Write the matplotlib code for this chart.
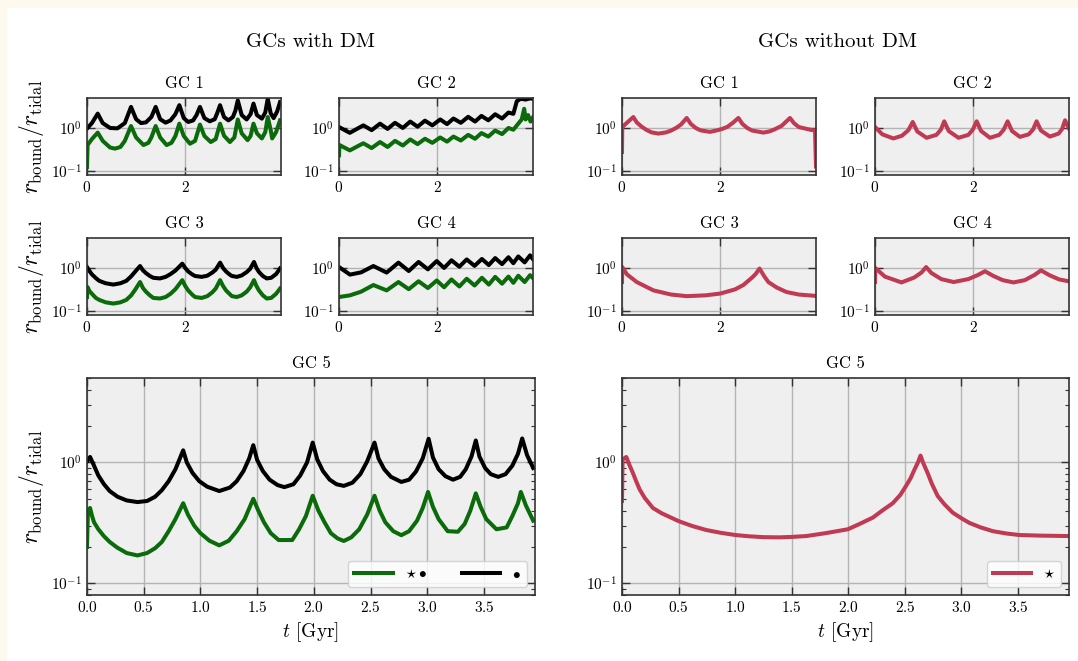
import numpy as np
import matplotlib
matplotlib.use("Agg")
import matplotlib.pyplot as plt
from matplotlib.ticker import MultipleLocator, NullLocator, NullFormatter, LogLocator
from matplotlib.patches import Rectangle

plt.rcParams['font.family'] = 'serif'
plt.rcParams['font.serif'] = ['cmr10']
plt.rcParams['mathtext.fontset'] = 'cm'
plt.rcParams['axes.formatter.use_mathtext'] = True
plt.rcParams['axes.unicode_minus'] = True

GREEN = '#0b6b0b'
BLACK = 'black'
RED = '#bf3a52'

# ---------------- data: time [Gyr], r_bound / r_tidal
# GCs with DM, small panels
gc1_dm_t_bk = [0.0, 0.1, 0.218, 0.32, 0.47, 0.62, 0.77, 0.896, 1.0, 1.1, 1.2, 1.31, 1.398, 1.49, 1.6, 1.7, 1.8,
               1.88, 1.97, 2.06, 2.16, 2.23, 2.30, 2.39, 2.5, 2.6, 2.65, 2.709, 2.79, 2.88, 2.97, 3.02, 3.07,
               3.15, 3.25, 3.33, 3.39, 3.46, 3.56, 3.63, 3.68, 3.74, 3.8, 3.87, 3.93]
gc1_dm_bk = [0.97, 1.3, 2.16, 1.3, 1.0, 0.98, 1.3, 3.1, 1.6, 1.3, 1.35, 1.8, 3.1, 1.6, 1.33, 1.5, 2.1,
             3.4, 1.7, 1.38, 1.5, 2.0, 3.1, 1.7, 1.43, 1.6, 2.2, 3.4, 1.8, 1.5, 1.8, 2.5, 4.4,
             2.0, 1.58, 2.1, 3.7, 2.0, 1.65, 2.3, 4.8, 2.2, 1.7, 2.4, 4.0]
gc1_dm_t_gr = [0.0, 0.012, 0.1, 0.218, 0.32, 0.47, 0.57, 0.68, 0.77, 0.896, 1.0, 1.15, 1.25, 1.31, 1.398, 1.49,
               1.62, 1.72, 1.8, 1.88, 1.97, 2.097, 2.2, 2.30, 2.39, 2.52, 2.62, 2.709, 2.79, 2.91, 3.0, 3.07,
               3.15, 3.27, 3.33, 3.39, 3.46, 3.56, 3.63, 3.68, 3.74, 3.77, 3.85, 3.93]
gc1_dm_gr = [0.124, 0.40, 0.55, 0.78, 0.5, 0.35, 0.33, 0.36, 0.5, 1.11, 0.6, 0.40, 0.45, 0.6, 1.11, 0.6,
             0.40, 0.45, 0.65, 1.26, 0.65, 0.43, 0.5, 1.2, 0.65, 0.47, 0.55, 1.26, 0.66, 0.47, 0.6, 1.58,
             0.75, 0.52, 0.65, 1.26, 0.75, 0.57, 0.8, 1.8, 0.9, 0.57, 0.8, 1.5]

gc2_dm_t_bk = [0.0, 0.22, 0.495, 0.665, 0.835, 0.99, 1.14, 1.3, 1.45, 1.6, 1.75, 1.9, 2.06, 2.2, 2.33, 2.48,
               2.63, 2.77, 2.9, 3.04, 3.18, 3.32, 3.45, 3.55, 3.62, 3.7, 3.8, 3.89, 3.95]
gc2_dm_bk = [1.05, 0.77, 1.15, 0.89, 1.26, 0.95, 1.32, 1.0, 1.41, 1.07, 1.48, 1.15, 1.58, 1.23, 1.66, 1.32,
             1.82, 1.41, 1.91, 1.51, 2.09, 1.66, 2.29, 2.14, 4.2, 4.8, 4.6, 4.9, 4.8]
gc2_dm_t_gr = [0.0, 0.01, 0.22, 0.495, 0.665, 0.835, 0.99, 1.14, 1.3, 1.45, 1.6, 1.75, 1.9, 2.06, 2.2, 2.33,
               2.48, 2.63, 2.77, 2.9, 3.04, 3.18, 3.32, 3.45, 3.55, 3.65, 3.72, 3.77, 3.8, 3.85, 3.9, 3.95]
gc2_dm_gr = [0.23, 0.40, 0.30, 0.44, 0.34, 0.47, 0.36, 0.50, 0.39, 0.54, 0.42, 0.56, 0.45, 0.60, 0.48, 0.63,
             0.51, 0.69, 0.56, 0.76, 0.63, 0.87, 0.72, 1.0, 0.91, 1.26, 1.58, 2.8, 1.58, 2.0, 1.41, 1.78]

gc3_dm_t_bk = [0.0, 0.05, 0.1, 0.18, 0.25, 0.38, 0.536, 0.68, 0.8, 0.9, 0.98, 1.08, 1.14, 1.2, 1.28, 1.35,
               1.486, 1.6, 1.7, 1.8, 1.94, 2.0, 2.06, 2.14, 2.2, 2.335, 2.45, 2.55, 2.62, 2.71, 2.77, 2.83,
               2.9, 2.95, 3.05, 3.15, 3.25, 3.32, 3.40, 3.45, 3.5, 3.58, 3.66, 3.75, 3.85, 3.93]
gc3_dm_bk = [1.05, 0.85, 0.71, 0.58, 0.5, 0.44, 0.41, 0.44, 0.5, 0.64, 0.82, 1.11, 0.88, 0.76, 0.65, 0.59,
             0.57, 0.62, 0.72, 0.87, 1.26, 1.0, 0.83, 0.71, 0.65, 0.62, 0.66, 0.78, 0.91, 1.33, 1.0, 0.83,
             0.71, 0.65, 0.62, 0.67, 0.8, 0.95, 1.38, 1.0, 0.81, 0.65, 0.57, 0.59, 0.72, 0.97]
gc3_dm_t_gr = [0.0, 0.01, 0.05, 0.1, 0.18, 0.25, 0.38, 0.536, 0.68, 0.8, 0.9, 0.98, 1.08, 1.14, 1.2, 1.28, 1.35,
               1.486, 1.6, 1.7, 1.8, 1.94, 2.0, 2.06, 2.14, 2.2, 2.335, 2.45, 2.55, 2.62, 2.71, 2.77, 2.83,
               2.9, 2.95, 3.05, 3.15, 3.25, 3.32, 3.40, 3.45, 3.5, 3.58, 3.66, 3.75, 3.85, 3.93]
gc3_dm_gr = [0.21, 0.36, 0.29, 0.25, 0.2, 0.18, 0.158, 0.148, 0.158, 0.18, 0.23, 0.31, 0.47, 0.34, 0.28, 0.23, 0.2,
             0.194, 0.21, 0.25, 0.32, 0.52, 0.38, 0.3, 0.24, 0.21, 0.2, 0.22, 0.27, 0.33, 0.52, 0.38, 0.3,
             0.25, 0.22, 0.21, 0.23, 0.28, 0.35, 0.52, 0.38, 0.3, 0.23, 0.194, 0.2, 0.25, 0.33]

gc4_dm_t = [0.0, 0.224, 0.45, 0.70, 0.97, 1.21, 1.42, 1.62, 1.81, 1.99, 2.14, 2.29, 2.45, 2.60, 2.76, 2.91,
            3.05, 3.18, 3.32, 3.45, 3.55, 3.65, 3.78, 3.89, 3.95]
gc4_dm_bk = [1.05, 0.70, 0.79, 1.11, 0.78, 1.33, 0.85, 1.38, 0.93, 1.45, 1.0, 1.51, 1.07, 1.58, 1.12, 1.62,
             1.17, 1.70, 1.23, 1.78, 1.29, 1.86, 1.35, 1.97, 1.6]
gc4_dm_gr = [0.21, 0.23, 0.28, 0.40, 0.30, 0.47, 0.32, 0.49, 0.34, 0.51, 0.355, 0.54, 0.37, 0.56, 0.39, 0.59,
             0.41, 0.62, 0.43, 0.63, 0.45, 0.66, 0.47, 0.68, 0.58]

# GCs with DM, GC 5
gc5_dm_t_bk = [0.0, 0.027, 0.06, 0.1, 0.15, 0.2, 0.27, 0.35, 0.445, 0.53, 0.6, 0.66, 0.72, 0.78, 0.848,
               0.88, 0.93, 0.99, 1.06, 1.166, 1.26, 1.32, 1.38, 1.43, 1.466,
               1.50, 1.55, 1.61, 1.68, 1.74, 1.82, 1.88, 1.94, 1.99,
               2.03, 2.08, 2.14, 2.2, 2.264, 2.34, 2.41, 2.47, 2.535,
               2.57, 2.62, 2.68, 2.771, 2.84, 2.90, 2.96, 3.012,
               3.05, 3.1, 3.16, 3.227, 3.29, 3.34, 3.39, 3.428,
               3.46, 3.51, 3.56, 3.625, 3.69, 3.75, 3.80, 3.837, 3.88, 3.934]
gc5_dm_bk = [1.02, 1.11, 0.95, 0.78, 0.66, 0.58, 0.52, 0.485, 0.47, 0.48, 0.52, 0.59, 0.70, 0.88, 1.26,
             1.0, 0.82, 0.70, 0.63, 0.58, 0.62, 0.70, 0.85, 1.08, 1.39,
             1.05, 0.85, 0.72, 0.65, 0.625, 0.66, 0.78, 1.0, 1.46,
             1.06, 0.85, 0.72, 0.66, 0.64, 0.68, 0.80, 1.02, 1.46,
             1.08, 0.88, 0.76, 0.69, 0.72, 0.84, 1.08, 1.57,
             1.1, 0.88, 0.77, 0.72, 0.76, 0.88, 1.12, 1.52,
             1.12, 0.9, 0.8, 0.76, 0.8, 0.94, 1.18, 1.58, 1.15, 0.90]
gc5_dm_t_gr = [0.0, 0.008, 0.027, 0.045, 0.062, 0.1, 0.15, 0.2, 0.268, 0.35, 0.445, 0.53, 0.6, 0.66, 0.72,
               0.78, 0.848, 0.89, 0.945, 1.0, 1.08, 1.166, 1.25, 1.32, 1.39, 1.466, 1.51, 1.56, 1.62, 1.69,
               1.81, 1.87, 1.93, 1.99, 2.04, 2.094, 2.15, 2.21, 2.264, 2.33, 2.40, 2.47, 2.535, 2.58, 2.63,
               2.70, 2.771, 2.84, 2.91, 2.96, 3.007, 3.05, 3.1, 3.18, 3.27, 3.33, 3.38, 3.428, 3.47, 3.52,
               3.61, 3.70, 3.75, 3.80, 3.825, 3.87, 3.934]
gc5_dm_gr = [0.20, 0.40, 0.42, 0.36, 0.32, 0.28, 0.245, 0.22, 0.197, 0.178, 0.17, 0.178, 0.195, 0.22, 0.27,
             0.34, 0.46, 0.37, 0.30, 0.26, 0.225, 0.206, 0.225, 0.27, 0.34, 0.50, 0.40, 0.32, 0.26, 0.228,
             0.228, 0.28, 0.36, 0.53, 0.40, 0.32, 0.26, 0.235, 0.224, 0.24, 0.28, 0.37, 0.53, 0.40, 0.32,
             0.27, 0.25, 0.27, 0.33, 0.42, 0.57, 0.43, 0.34, 0.27, 0.267, 0.31, 0.40, 0.555, 0.43, 0.34,
             0.28, 0.29, 0.36, 0.46, 0.57, 0.44, 0.33]

# GCs without DM
gc1_nodm_t = [0.0, 0.005, 0.1, 0.23, 0.3, 0.4, 0.5, 0.6, 0.74, 0.9, 1.0, 1.1, 1.2, 1.317, 1.4, 1.5, 1.6,
              1.79, 1.95, 2.05, 2.15, 2.25, 2.37, 2.45, 2.55, 2.65, 2.88, 3.0, 3.1, 3.25, 3.42, 3.5, 3.6,
              3.73, 3.85, 3.93, 3.95]
gc1_nodm = [0.275, 1.05, 1.32, 1.8, 1.35, 1.07, 0.9, 0.79, 0.74, 0.79, 0.87, 1.0, 1.2, 1.71, 1.25, 1.0, 0.88,
            0.81, 0.89, 0.96, 1.07, 1.3, 1.71, 1.25, 1.0, 0.87, 0.78, 0.83, 0.92, 1.12, 1.71, 1.3, 1.05,
            0.97, 0.9, 0.88, 0.126]
gc2_nodm_t = [0.0, 0.15, 0.373, 0.55, 0.68, 0.768, 0.86, 1.05, 1.25, 1.34, 1.41, 1.5, 1.70, 1.9, 1.99, 2.07,
              2.16, 2.34, 2.53, 2.62, 2.70, 2.79, 2.95, 3.13, 3.22, 3.29, 3.38, 3.56, 3.74, 3.81, 3.87, 3.95]
gc2_nodm = [1.05, 0.71, 0.57, 0.66, 0.89, 1.38, 0.83, 0.59, 0.69, 0.91, 1.43, 0.85, 0.59, 0.69, 0.91, 1.43,
            0.85, 0.59, 0.69, 0.91, 1.43, 0.85, 0.62, 0.71, 0.93, 1.43, 0.87, 0.63, 0.74, 0.95, 1.51, 0.97]
gc3_nodm_t = [0.0, 0.005, 0.1, 0.3, 0.64, 1.0, 1.32, 1.7, 2.0, 2.3, 2.47, 2.65, 2.72, 2.80, 2.86, 2.9, 2.98,
              3.15, 3.35, 3.6, 3.93]
gc3_nodm = [0.47, 1.05, 0.71, 0.47, 0.30, 0.24, 0.22, 0.23, 0.253, 0.316, 0.40, 0.60, 0.72, 0.97, 0.75, 0.63,
            0.47, 0.35, 0.275, 0.24, 0.224]
gc4_nodm_t = [0.0, 0.005, 0.2, 0.54, 0.8, 0.95, 1.04, 1.15, 1.35, 1.6, 1.9, 2.1, 2.24, 2.4, 2.6, 2.82,
              3.05, 3.25, 3.38, 3.55, 3.75, 3.94]
gc4_nodm = [0.47, 1.0, 0.63, 0.46, 0.60, 0.79, 1.05, 0.76, 0.55, 0.47, 0.55, 0.69, 0.84, 0.66, 0.52, 0.46,
            0.52, 0.69, 0.88, 0.68, 0.54, 0.49]
gc5_nodm_t = [0.0, 0.005, 0.038, 0.06, 0.096, 0.125, 0.155, 0.2, 0.273, 0.35, 0.5, 0.62, 0.745, 0.87, 1.0,
              1.12, 1.245, 1.39, 1.5, 1.628, 1.8, 1.996, 2.1, 2.217, 2.3, 2.393, 2.46, 2.51, 2.55, 2.585,
              2.615, 2.638, 2.66, 2.70, 2.74, 2.79, 2.85, 2.923, 3.0, 3.07, 3.17, 3.277, 3.4, 3.51, 3.7, 3.94]
gc5_nodm = [0.48, 1.06, 1.11, 0.98, 0.82, 0.70, 0.60, 0.51, 0.42, 0.38, 0.327, 0.298, 0.276, 0.262, 0.251,
            0.245, 0.241, 0.24, 0.242, 0.246, 0.26, 0.28, 0.31, 0.35, 0.40, 0.46, 0.54, 0.64, 0.74, 0.875,
            1.0, 1.14, 1.0, 0.82, 0.66, 0.527, 0.45, 0.384, 0.345, 0.316, 0.29, 0.27, 0.258, 0.251, 0.248, 0.246]

YLABEL = r'$r_{\rm bound}/r_{\rm tidal}$'
W, H = 1078, 661


def style_axes(ax, big=False):
    ax.set_yscale('log')
    ax.set_ylim(0.08, 5)
    ax.set_xlim(0, 3.95)
    ax.set_facecolor('#efefef')
    ax.grid(True, which='major', color='#b4b4b4', lw=1.0)
    ax.set_axisbelow(True)
    for s in ax.spines.values():
        s.set_color('#333333')
        s.set_linewidth(1.2)
    ax.tick_params(which='both', direction='in', top=True, right=True, color='#333333', labelsize=11)
    ax.tick_params(which='major', length=6, width=1.0)
    ax.tick_params(which='minor', length=3, width=0.8)
    ax.yaxis.set_major_locator(LogLocator(base=10, numticks=5))
    if big:
        ax.xaxis.set_major_locator(MultipleLocator(0.5))
        ax.yaxis.set_minor_locator(LogLocator(base=10, subs=np.arange(2, 10), numticks=10))
        ax.yaxis.set_minor_formatter(NullFormatter())
    else:
        ax.xaxis.set_major_locator(MultipleLocator(2))
        ax.yaxis.set_minor_locator(NullLocator())
    ax.xaxis.set_minor_locator(NullLocator())


def axes_px(x0, y0, x1, y1):
    return fig.add_axes([x0 / W, 1 - y1 / H, (x1 - x0) / W, (y1 - y0) / H])


fig = plt.figure(figsize=(10.78, 6.61), dpi=100)
fig.patch.set_facecolor('#fdf9ee')
fig.add_artist(Rectangle((7 / W, 0), 1 - 7 / W, 1 - 8 / H, transform=fig.transFigure,
                         facecolor='white', edgecolor='none', zorder=-10))

lw = 2.9
cols = [(87, 281), (339, 533), (622, 816), (875, 1069)]
rows = [(98, 175), (238, 315)]

small_dm = [
    ('GC 1', gc1_dm_t_gr, gc1_dm_gr, gc1_dm_t_bk, gc1_dm_bk),
    ('GC 2', gc2_dm_t_gr, gc2_dm_gr, gc2_dm_t_bk, gc2_dm_bk),
    ('GC 3', gc3_dm_t_gr, gc3_dm_gr, gc3_dm_t_bk, gc3_dm_bk),
    ('GC 4', gc4_dm_t, gc4_dm_gr, gc4_dm_t, gc4_dm_bk),
]
small_nodm = [
    ('GC 1', gc1_nodm_t, gc1_nodm),
    ('GC 2', gc2_nodm_t, gc2_nodm),
    ('GC 3', gc3_nodm_t, gc3_nodm),
    ('GC 4', gc4_nodm_t, gc4_nodm),
]

for i, (name, tg, g, tb, b) in enumerate(small_dm):
    x0, x1 = cols[i % 2]
    y0, y1 = rows[i // 2]
    ax = axes_px(x0, y0, x1, y1)
    style_axes(ax)
    ax.plot(tg, g, color=GREEN, lw=lw)
    ax.plot(tb, b, color=BLACK, lw=lw)
    ax.set_title(name, fontsize=12, pad=7)
    if i % 2 == 0:
        ax.set_ylabel(YLABEL, fontsize=17)

for i, (name, t, r) in enumerate(small_nodm):
    x0, x1 = cols[2 + i % 2]
    y0, y1 = rows[i // 2]
    ax = axes_px(x0, y0, x1, y1)
    style_axes(ax)
    ax.plot(t, r, color=RED, lw=lw)
    ax.set_title(name, fontsize=12, pad=7)

# big panels
ax = axes_px(87, 378, 535, 595)
style_axes(ax, big=True)
ax.plot(gc5_dm_t_gr, gc5_dm_gr, color=GREEN, lw=lw, label=r'$\star\bullet$')
ax.plot(gc5_dm_t_bk, gc5_dm_bk, color=BLACK, lw=lw, label=r'$\bullet$')
ax.set_title('GC 5', fontsize=12, pad=7)
ax.set_ylabel(YLABEL, fontsize=17)
ax.set_xlabel(r'$t$ [Gyr]', fontsize=14)
ax.legend(loc='lower right', ncol=2, fontsize=11, handlelength=2.5, columnspacing=2.3)

ax = axes_px(622, 378, 1069, 595)
style_axes(ax, big=True)
ax.plot(gc5_nodm_t, gc5_nodm, color=RED, lw=lw, label=r'$\star$')
ax.set_title('GC 5', fontsize=12, pad=7)
ax.set_xlabel(r'$t$ [Gyr]', fontsize=14)
ax.legend(loc='lower right', fontsize=11, handlelength=2.5)

fig.text(311 / W, 1 - 42 / H, 'GCs with DM', ha='center', va='center', fontsize=15)
fig.text(838 / W, 1 - 42 / H, 'GCs without DM', ha='center', va='center', fontsize=15)

fig.savefig('out.png', dpi=100, facecolor=fig.get_facecolor())
